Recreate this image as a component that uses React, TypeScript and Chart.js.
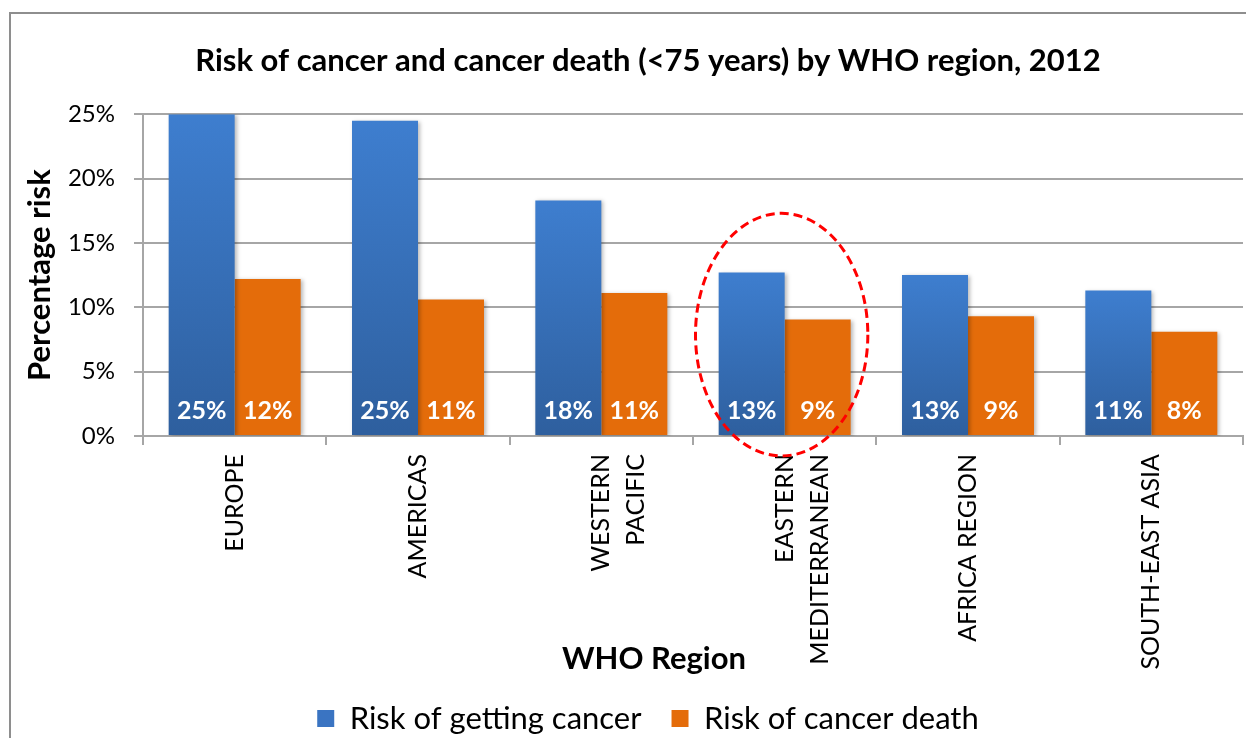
import React, { useEffect, useRef } from 'react';
import { Chart, registerables } from 'chart.js';

Chart.register(...registerables);

// ---------- data ----------
const chartTitle = 'Risk of cancer and cancer death (<75 years) by WHO region, 2012';
const yAxisTitle = 'Percentage risk';
const xAxisTitle = 'WHO Region';
const categories: (string | string[])[] = [
  'EUROPE',
  'AMERICAS',
  ['WESTERN', 'PACIFIC'],
  ['EASTERN', 'MEDITERRANEAN'],
  'AFRICA REGION',
  'SOUTH-EAST ASIA',
];
const seriesNames = ['Risk of getting cancer', 'Risk of cancer death'];
const riskGetting = [25.0, 24.5, 18.3, 12.7, 12.5, 11.3];
const riskDeath = [12.2, 10.6, 11.1, 9.05, 9.3, 8.1];
const yMin = 0;
const yMax = 25;
const yStep = 5;
const highlightIndex = 3; // EASTERN MEDITERRANEAN circled

const FONT = 'Lato';
const GRID = '#A6A6A6';
const ORANGE = '#E46C0A';
const BLUE_TOP = '#3E7ECF';
const BLUE_BOTTOM = '#2E5F9E';

const blueFill = (ctx: any) => {
  const chart = ctx.chart;
  if (ctx.type !== 'data' || !chart.chartArea || !chart.scales.y) return '#3A76C4';
  const ys = chart.scales.y;
  const top = ys.getPixelForValue(ctx.raw);
  const bot = ys.getPixelForValue(0);
  const g = chart.ctx.createLinearGradient(0, top, 0, bot);
  g.addColorStop(0, BLUE_TOP);
  g.addColorStop(1, BLUE_BOTTOM);
  return g;
};

const shadowAndLabels = {
  id: 'shadowAndLabels',
  beforeDatasetsDraw(chart: any) {
    const c = chart.ctx;
    c.save();
    c.shadowColor = 'rgba(0,0,0,0.28)';
    c.shadowBlur = 4;
    c.shadowOffsetX = 2;
    c.shadowOffsetY = 1;
  },
  afterDatasetsDraw(chart: any) {
    const c = chart.ctx;
    c.restore();
    const base = chart.scales.y.getPixelForValue(0);
    c.save();
    c.fillStyle = '#FFFFFF';
    c.font = `bold 25px ${FONT}`;
    c.textAlign = 'center';
    c.textBaseline = 'middle';
    chart.data.datasets.forEach((ds: any, di: number) => {
      const meta = chart.getDatasetMeta(di);
      meta.data.forEach((el: any, i: number) => {
        c.fillText(Math.round(ds.data[i]) + '%', el.x, base - 25);
      });
    });
    c.restore();
  },
};

const annotations = {
  id: 'annotations',
  afterDraw(chart: any) {
    const c = chart.ctx;
    const xs = chart.scales.x;
    const ys = chart.scales.y;
    // dashed ellipse around highlighted category
    const cx = xs.getPixelForValue(highlightIndex);
    const catW = xs.width / categories.length;
    const top = ys.getPixelForValue(17.3);
    const bottom = ys.getPixelForValue(-1.55);
    c.save();
    c.strokeStyle = '#FF0000';
    c.lineWidth = 3;
    c.setLineDash([9, 5]);
    c.beginPath();
    c.ellipse(cx - 3, (top + bottom) / 2, catW * 0.47, (bottom - top) / 2, 0, 0, Math.PI * 2);
    c.stroke();
    c.restore();
    // x axis title centred on chart width
    c.save();
    c.fillStyle = '#000';
    c.font = `bold 31px ${FONT}`;
    c.textAlign = 'center';
    c.textBaseline = 'middle';
    c.fillText(xAxisTitle, chart.width / 2 + 6, xs.bottom - 14);
    c.restore();
  },
};

export default function App() {
  const ref = useRef<HTMLCanvasElement | null>(null);

  useEffect(() => {
    if (!ref.current) return;
    const chart = new Chart(ref.current, {
      type: 'bar',
      data: {
        labels: categories,
        datasets: [
          {
            label: seriesNames[0],
            data: riskGetting,
            backgroundColor: blueFill,
            borderWidth: 0,
            categoryPercentage: 0.72,
            barPercentage: 1.0,
          },
          {
            label: seriesNames[1],
            data: riskDeath,
            backgroundColor: ORANGE,
            borderWidth: 0,
            categoryPercentage: 0.72,
            barPercentage: 1.0,
          },
        ],
      },
      options: {
        responsive: false,
        animation: false,
        devicePixelRatio: 1,
        layout: { padding: { left: 42, right: 42, top: 0, bottom: 0 } },
        plugins: {
          title: {
            display: true,
            text: chartTitle,
            color: '#000',
            font: { family: FONT, size: 31, weight: 'bold' },
            padding: { top: 28, bottom: 35 },
          },
          legend: {
            position: 'bottom',
            labels: {
              color: '#000',
              font: { family: FONT, size: 31 },
              boxWidth: 17,
              boxHeight: 17,
              padding: 30,
              generateLabels: (chart: any) => {
                const items = Chart.defaults.plugins.legend.labels.generateLabels(chart);
                items.forEach((it: any, i: number) => {
                  it.fillStyle = i === 0 ? '#3A74C2' : ORANGE;
                  it.strokeStyle = 'rgba(0,0,0,0)';
                  it.lineWidth = 0;
                });
                return items;
              },
            },
          },
          tooltip: { enabled: false },
        },
        scales: {
          x: {
            offset: true,
            grid: {
              offset: true,
              drawOnChartArea: false,
              drawTicks: true,
              tickLength: 9,
              color: GRID,
              lineWidth: 2,
            },
            border: { display: true, color: GRID, width: 2 },
            ticks: {
              autoSkip: false,
              maxRotation: 90,
              minRotation: 90,
              padding: 9,
              color: '#000',
              font: { family: FONT, size: 25, lineHeight: 1.4 },
            },
            afterFit: (s: any) => {
              s.height = 237;
            },
          },
          y: {
            min: yMin,
            max: yMax,
            ticks: {
              stepSize: yStep,
              padding: 19,
              color: '#000',
              font: { family: FONT, size: 24 },
              callback: (v: any) => v + '%',
            },
            grid: { color: GRID, lineWidth: 2, tickLength: 9 },
            border: { display: true, color: GRID, width: 2 },
            title: {
              display: true,
              text: yAxisTitle,
              color: '#000',
              font: { family: FONT, size: 31, weight: 'bold' },
              padding: { top: -31.6, bottom: 0 },
            },
            afterFit: (s: any) => {
              s.width = 90;
            },
          },
        },
      },
      plugins: [shadowAndLabels, annotations],
    });
    return () => chart.destroy();
  }, []);

  return (
    <div
      style={{
        position: 'fixed',
        left: 0,
        top: 0,
        width: 1246,
        height: 738,
        overflow: 'hidden',
        background: '#FFFFFF',
      }}
    >
      <div
        style={{
          position: 'absolute',
          left: 9,
          top: 12,
          width: 1274,
          height: 780,
          border: '2px solid #8E8E8E',
          background: '#FFFFFF',
        }}
      >
        <canvas
          ref={ref}
          width={1274}
          height={730}
          style={{ display: 'block', width: 1274, height: 730 }}
        />
      </div>
    </div>
  );
}
